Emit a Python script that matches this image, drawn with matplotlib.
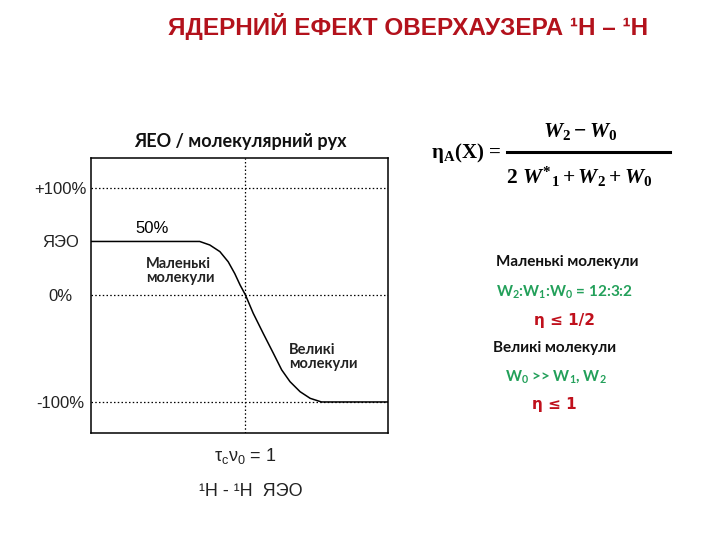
import matplotlib
matplotlib.use("Agg")
import matplotlib.pyplot as plt
from matplotlib.lines import Line2D

plt.rcParams['font.family'] = ['Liberation Sans', 'DejaVu Sans']
plt.rcParams['mathtext.fontset'] = 'custom'
plt.rcParams['mathtext.rm'] = 'Liberation Serif:bold'
plt.rcParams['mathtext.it'] = 'Liberation Serif:italic:bold'
plt.rcParams['mathtext.bf'] = 'Liberation Serif:bold'
plt.rcParams['mathtext.sf'] = 'Lato:bold'

# data: log10(tau_c * nu_0) vs NOE (%)
log_tau_nu = [-2.6, -0.77, -0.60, -0.43, -0.29, -0.18, -0.09, 0.0, 0.13, 0.30,
              0.47, 0.61, 0.75, 0.92, 1.09, 1.28, 2.4]
noe = [50, 50, 46.7, 40.5, 31, 20, 9.3, 0, -17, -36,
       -54.5, -70, -81, -90.4, -96.6, -100, -100]
ytick_vals = [100, 50, 0, -100]
ytick_labels = ['+100%', 'ЯЭО', '0%', '-100%']
grid_levels = [100, 0, -100]

W, H = 720, 540
fig = plt.figure(figsize=(7.2, 5.4), dpi=100)

def px(x, y):
    return x / W, 1 - y / H

ax = fig.add_axes([91 / W, (H - 433) / H, 297 / W, (433 - 158) / H])
ax.set_xlim(-2.6, 2.4)
ax.set_ylim(-129, 128)
for lv in grid_levels:
    ax.axhline(lv, color='black', lw=0.9, ls=(0, (1.2, 1.8)))
ax.axvline(0, color='black', lw=0.9, ls=(0, (1.2, 1.8)))
ax.plot(log_tau_nu, noe, color='black', lw=1.1)
ax.set_xticks([])
ax.set_yticks(ytick_vals)
ax.set_yticklabels(ytick_labels, fontsize=12, ha='center', color='#222222')
ax.tick_params(axis='y', length=0, pad=22)
for s in ax.spines.values():
    s.set_linewidth(1.1)

ax.text(-1.86, 62, '50%', fontsize=12, ha='left', va='center')
cal = ['Lato', 'DejaVu Sans']
fig.text(*px(146, 271), 'Маленькі\nмолекули', family=cal, fontweight='bold',
         fontsize=10.5, ha='left', va='center', linespacing=1.05, color='#222222')
fig.text(*px(289, 357), 'Великі\nмолекули', family=cal, fontweight='bold',
         fontsize=10.5, ha='left', va='center', linespacing=1.05, color='#222222')

fig.text(*px(240, 141), 'ЯЕО / молекулярний рух', family=cal, fontsize=13,
         fontweight='bold', ha='center', va='center', color='#111111')

fig.text(*px(408, 27), 'ЯДЕРНИЙ ЕФЕКТ ОВЕРХАУЗЕРА ¹H – ¹H',
         fontsize=17.5, fontweight='bold', ha='center', va='center', color='#B3121C')

# formula
fig.text(*px(466, 153), r'$\mathbf{\eta}_{\mathbf{A}}\mathbf{(X)}$ =', fontsize=15,
         family='Liberation Serif', fontweight='bold', ha='center', va='center')
fig.add_artist(Line2D([507 / W, 670 / W], [1 - 152 / H, 1 - 152 / H], color='black', lw=2.2))
fig.text(*px(580, 131), r'$W_{2} - W_{0}$', fontsize=15.5, ha='center', va='center')
fig.text(*px(579, 177), r'$2\ W^{*}{}_{1} + W_{2} + W_{0}$', fontsize=15.5, ha='center', va='center')

green = '#23A05A'
red = '#C0101C'
fig.text(*px(567, 262), 'Маленькі молекули', family=cal, fontweight='bold',
         fontsize=11, ha='center', va='center', color='#111111')
fig.text(*px(565, 292), r'$\mathsf{W_2}$:$\mathsf{W_1}$:$\mathsf{W_0}$ = 12:3:2', family=cal,
         fontweight='bold', fontsize=11, ha='center', va='center', color=green)
fig.text(*px(564, 320), 'η ≤ 1/2', family=['DejaVu Sans'], fontweight='bold',
         fontsize=11, ha='center', va='center', color=red)
fig.text(*px(555, 348), 'Великі молекули', family=cal, fontweight='bold',
         fontsize=11, ha='center', va='center', color='#111111')
fig.text(*px(556, 377), r'$\mathsf{W_0}$ >> $\mathsf{W_1}$, $\mathsf{W_2}$', family=cal,
         fontweight='bold', fontsize=11, ha='center', va='center', color=green)
fig.text(*px(554, 404), 'η ≤ 1', family=['DejaVu Sans'], fontweight='bold',
         fontsize=11, ha='center', va='center', color=red)

# bottom labels
fig.text(*px(245, 456), r'$\mathregular{\tau_c\nu_0}$ = 1', fontsize=13,
         ha='center', va='center', color='#222222')
fig.text(*px(251, 492), '¹H - ¹H  ЯЭО', fontsize=13, ha='center',
         va='center', color='#222222')

fig.savefig('out.png', dpi=100, facecolor='white')
